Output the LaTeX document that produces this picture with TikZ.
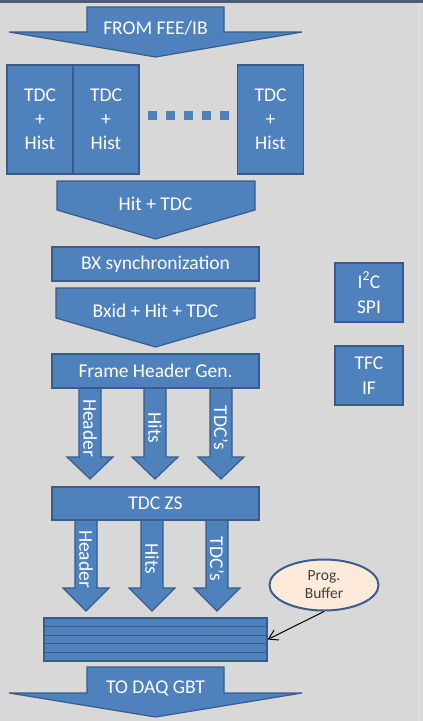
\documentclass[tikz,border=0pt]{standalone}
\usepackage{fontspec}
\setmainfont{Carlito}
\usetikzlibrary{arrows.meta,positioning,shapes.geometric}
\definecolor{panel}{HTML}{D8D8D8}
\definecolor{rim}{HTML}{4C5C78}
\definecolor{edge}{HTML}{E2DEDE}
\definecolor{steel}{HTML}{4F81BD}
\definecolor{steeldark}{HTML}{385D8A}
\definecolor{peach}{HTML}{FDEADA}
\definecolor{ovalrim}{HTML}{3B5E8C}
\definecolor{ink}{HTML}{404040}

\begin{document}
\begin{tikzpicture}[
  x=1pt,y=-1pt,
  font=\fontsize{19.5}{24}\selectfont,
  blk/.style={draw=steeldark,fill=steel,line width=1.2pt,text=white,
              align=center,inner sep=0pt},
  fat/.style={draw=steeldark,fill=steel,line width=1.2pt},
  lbl/.style={text=white,inner sep=0pt},
  arr/.style={-{Straight Barb[length=9pt,width=11pt]},line width=1pt}
]
  % panel
  \fill[panel] (0,0) rectangle (423,721);
  \fill[rim] (0,0) rectangle (423,2.5);
  \fill[edge] (418,2.5) rectangle (420,721);
  \useasboundingbox (0,0) rectangle (423,721);

  % input arrow
  \draw[fat] (87,7) -- (224,7) -- (224,32) -- (302,32) -- (155.5,57)
    -- (9,32) -- (87,32) -- cycle;
  \node[lbl] (from) at (155.5,28) {FROM FEE/IB};

  % TDC + histogram channels
  \foreach \n/\x in {tdca/40,tdcb/106,tdcn/270.5}
    \node[blk,minimum width=66pt,minimum height=109pt] (\n) at (\x,119.5) {TDC\\+\\Hist};
  \foreach \x in {152,170,188,206,224}
    \fill[steel] (\x-4.5,110.5) rectangle +(9,9);

  \draw[fat] (57,181) -- (255,181) -- (255,210) -- (155.5,239) -- (57,210) -- cycle;
  \node[lbl] (hit) at (155.5,204) {Hit + TDC};

  \node[blk,minimum width=207pt,minimum height=34pt] (bx) at (155.5,264) {BX synchronization};

  \draw[fat] (56,288) -- (255,288) -- (255,318) -- (155.5,347) -- (56,318) -- cycle;
  \node[lbl] (bxid) at (155.5,311) {Bxid + Hit + TDC};

  % header / hits / tdc streams
  \foreach \x/\t in {90/Header,155/Hits,221/TDC’s}{
    \draw[fat] (\x-11,386) -- (\x+11,386) -- (\x+11,457) -- (\x+23,457) -- (\x,479)
      -- (\x-23,457) -- (\x-11,457) -- cycle;
    \node[lbl,rotate=-90] (up\x) at (\x,428) {\t};
  }
  \foreach \x/\t in {86/Header,152/Hits,217/TDC’s}{
    \draw[fat] (\x-11,518) -- (\x+11,518) -- (\x+11,588) -- (\x+23,588) -- (\x,611)
      -- (\x-23,588) -- (\x-11,588) -- cycle;
    \node[lbl,rotate=-90] (dn\x) at (\x,559) {\t};
  }

  \node[blk,minimum width=207pt,minimum height=34pt] (frame) at (155.5,371) {Frame Header Gen.};
  \node[blk,minimum width=207pt,minimum height=33pt] (zs) at (155.5,503.5) {TDC ZS};

  % slow control
  \node[blk,minimum width=68pt,minimum height=59pt,font=\fontsize{19.5}{25}\selectfont]
    (i2c) at (369,292.5) {I\textsuperscript{2}C\\SPI};
  \node[blk,minimum width=68pt,minimum height=59pt,font=\fontsize{19.5}{25}\selectfont]
    (tfc) at (369,375.5) {TFC\\IF};

  % output buffer
  \node[blk,minimum width=223pt,minimum height=43pt] (buf) at (155.5,639.5) {};
  \foreach \k in {1,...,4}
    \draw[steeldark,line width=1.2pt] (44,{618+8.6*\k}) -- (267,{618+8.6*\k});

  \node[ellipse,draw=ovalrim,fill=peach,line width=2pt,minimum width=109pt,
        minimum height=51pt,inner sep=0pt,align=center,text=ink,
        font=\fontsize{15.5}{18}\selectfont] (prog) at (324,585) {Prog.\\Buffer};
  \draw[arr] (prog.south) -- (buf.east);

  \draw[fat] (87,667) -- (224,667) -- (224,693) -- (302,693) -- (155.5,717)
    -- (9,693) -- (87,693) -- cycle;
  \node[lbl] (daq) at (155.5,688) {TO DAQ GBT};
\end{tikzpicture}
\end{document}
